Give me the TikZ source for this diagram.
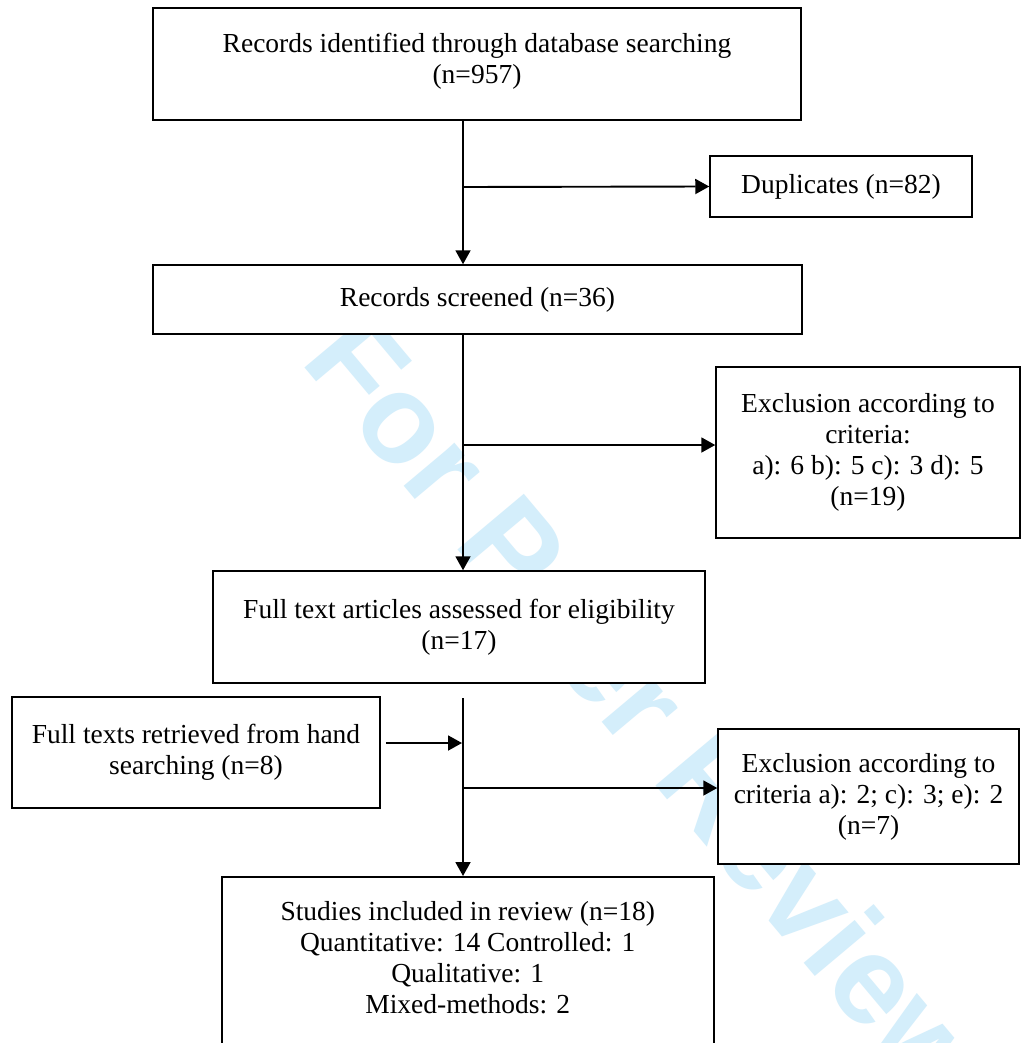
\documentclass[tikz,border=0pt]{standalone}
\usepackage{fontspec}
\setmainfont{Liberation Serif}
\newfontfamily\wmfont{Liberation Sans}
\usetikzlibrary{arrows.meta,calc}
\definecolor{wm}{RGB}{212,238,251}
\begin{document}
\begin{tikzpicture}[x=1pt,y=-1pt,
  box/.style={draw=black, fill=white, line width=1.5pt, align=center, inner sep=0pt,
    font=\fontsize{27.5}{31}\selectfont},
  conn/.style={line width=1.9pt, -{Triangle[length=14pt,width=15pt]}},
  watermark/.style={font=\wmfont\bfseries\fontsize{126}{130}\selectfont, text=wm,
    rotate=-50, anchor=base west, inner sep=0pt}]
\useasboundingbox (0,0) rectangle (1021,1043);
\clip (0,0) rectangle (1021,1043);
\fill[white] (0,0) rectangle (1021,1043);

% watermark
\node[watermark] (wmk) at (299,361) {For Peer Review};

% boxes
\node[box, minimum width=648pt, minimum height=112pt, text depth=12pt] (rec) at (477,64)
  {Records identified through database searching\\(n=957)};
\node[box, minimum width=262pt, minimum height=61pt] (dup) at (841,186.5)
  {Duplicates (n=82)};
\node[box, minimum width=649pt, minimum height=69pt] (scr) at (477.5,299.5)
  {Records screened (n=36)};
\node[box, minimum width=304pt, minimum height=171pt] (ex1) at (868,452.5)
  {Exclusion according to\\criteria:\\a): 6 b): 5 c): 3 d): 5\\(n=19)};
\node[box, minimum width=492pt, minimum height=112pt] (full) at (459,627)
  {Full text articles assessed for eligibility\\(n=17)};
\node[box, minimum width=368pt, minimum height=111pt] (hand) at (196,752.5)
  {Full texts retrieved from hand\\searching (n=8)};
\node[box, minimum width=301pt, minimum height=135pt] (ex2) at (868.5,796.5)
  {Exclusion according to\\criteria a): 2; c): 3; e): 2\\(n=7)};
\node[box, anchor=north west] (incl) at (221,876)
  {\begin{minipage}[t][200pt][t]{492pt}\centering\vspace*{25pt}%
   Studies included in review (n=18)\\
   Quantitative: 14 Controlled: 1\\
   Qualitative: 1\\
   Mixed-methods: 2\end{minipage}};

% connectors
\coordinate (trunk) at (463,0);
\coordinate (j1) at (463,187);
\coordinate (j2) at (463,445);
\coordinate (top3) at (463,698);
\coordinate (j3) at (462,743);
\coordinate (j4) at (463,788);

\draw[conn] (rec.south -| trunk) -- (scr.north -| trunk);
\draw[conn] (j1) -- (dup.west);
\draw[conn] (scr.south -| trunk) -- (full.north -| trunk);
\draw[conn] (j2) -- (j2 -| ex1.west);
\draw[conn] (top3) -- (incl.north -| top3);
\draw[conn] ($(hand.east |- j3)+(5,0)$) -- (j3);
\draw[conn] (j4) -- (j4 -| ex2.west);
\end{tikzpicture}
\end{document}
